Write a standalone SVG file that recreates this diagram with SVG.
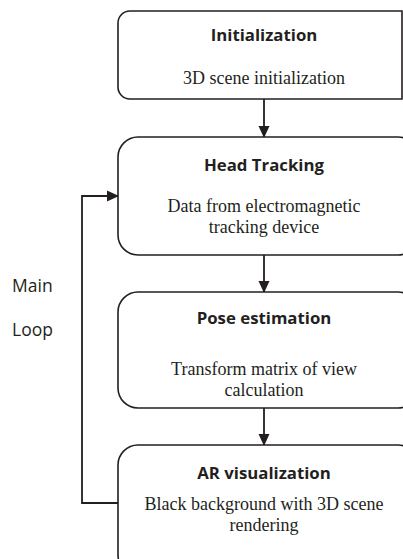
<svg xmlns="http://www.w3.org/2000/svg" width="403" height="559" viewBox="0 0 403 559">
<defs>
<marker id="ah" markerWidth="12" markerHeight="12" refX="11" refY="6" orient="auto" markerUnits="userSpaceOnUse">
<path d="M0,0.5 L12,6 L0,11.5 Z" fill="#231f20"/>
</marker>
<style>
.box{fill:#fff;stroke:#231f20;stroke-width:1.6}
.t{font-family:"Open Sans","Liberation Sans",sans-serif;font-weight:bold;font-size:16.8px;fill:#231f20;text-anchor:middle}
.s{font-family:"Liberation Serif",serif;font-size:18px;fill:#231f20;text-anchor:middle}
.l{font-family:"Open Sans","Liberation Sans",sans-serif;font-size:17.5px;fill:#231f20}
.c{fill:none;stroke:#231f20;stroke-width:1.8}
</style>
</defs>
<rect width="403" height="559" fill="#fff"/>
<g id="connectors">
<line class="c" x1="264" y1="99" x2="264" y2="137" marker-end="url(#ah)"/>
<line class="c" x1="264" y1="255" x2="264" y2="292" marker-end="url(#ah)"/>
<line class="c" x1="264" y1="408" x2="264" y2="445" marker-end="url(#ah)"/>
<polyline class="c" points="118,503 82,503 82,196 118,196" marker-end="url(#ah)"/>
</g>
<g id="init">
<path class="box" d="M130,11 H402 V99 H130 A12,12 0 0 1 118,87 V23 A12,12 0 0 1 130,11 Z"/>
<text class="t" x="264" y="41">Initialization</text>
<text class="s" x="264" y="84">3D scene initialization</text>
</g>
<g id="head">
<rect class="box" x="118" y="137" width="300" height="118" rx="20"/>
<text class="t" x="264" y="171">Head Tracking</text>
<text class="s" x="264" y="212">Data from electromagnetic</text>
<text class="s" x="264" y="233">tracking device</text>
</g>
<g id="pose">
<rect class="box" x="118" y="292" width="300" height="116" rx="20"/>
<text class="t" x="264" y="324">Pose estimation</text>
<text class="s" x="264" y="375">Transform matrix of view</text>
<text class="s" x="264" y="396">calculation</text>
</g>
<g id="ar">
<rect class="box" x="118" y="445" width="300" height="130" rx="20"/>
<text class="t" x="264" y="479">AR visualization</text>
<text class="s" x="264" y="510">Black background with 3D scene</text>
<text class="s" x="264" y="531">rendering</text>
</g>
<g id="label">
<text class="l" x="12" y="292">Main</text>
<text class="l" x="12" y="336">Loop</text>
</g>
</svg>
